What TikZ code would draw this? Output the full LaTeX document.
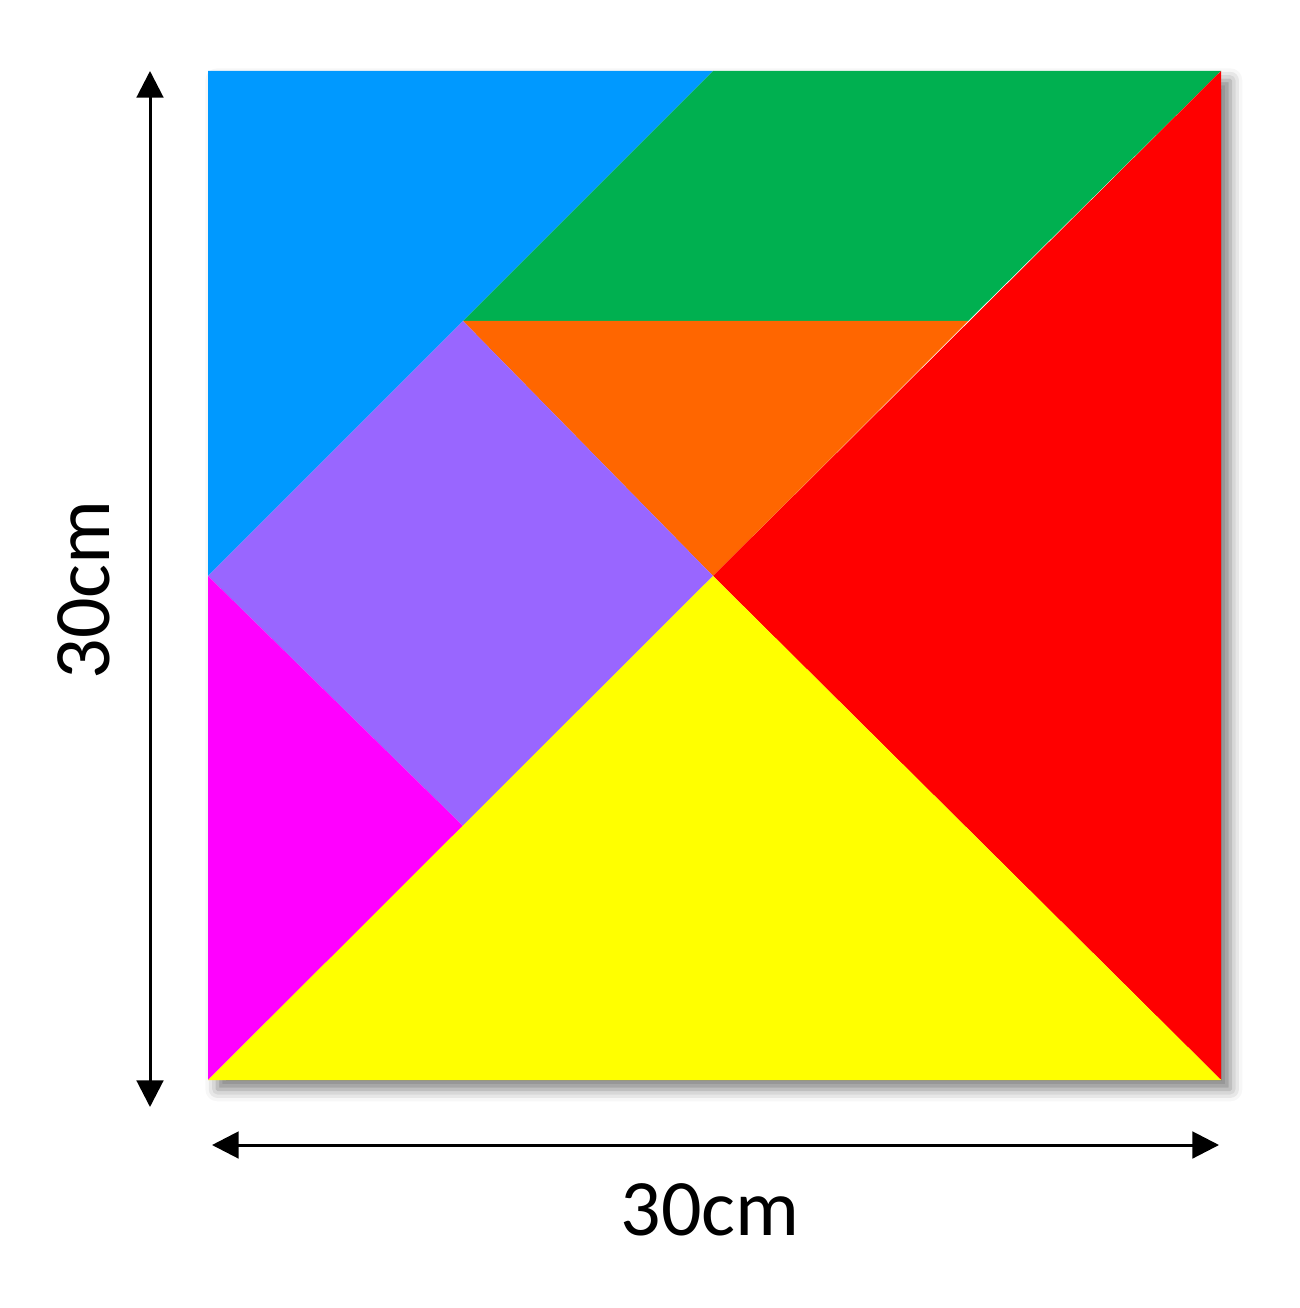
\documentclass[tikz,border=0pt]{standalone}
\usepackage{fontspec}
\setmainfont{Carlito}
\usetikzlibrary{arrows.meta,shadows.blur}
\definecolor{tgblue}{HTML}{0099FF}
\definecolor{tggreen}{HTML}{00B050}
\definecolor{tgorange}{HTML}{FF6600}
\definecolor{tgred}{HTML}{FF0000}
\definecolor{tgpurple}{HTML}{9966FF}
\definecolor{tgpink}{HTML}{FF00FF}
\definecolor{tgyellow}{HTML}{FFFF00}
\tikzset{
  dim/.style={line width=2.25pt, {Triangle[length=20pt,width=20pt,fill=black]}-{Triangle[length=20pt,width=20pt,fill=black]}},
  dimlabel/.style={font=\fontsize{60}{72}\selectfont, inner sep=0pt}
}
\begin{document}
\begin{tikzpicture}[x=0.75pt,y=-0.75pt]
    \useasboundingbox (0,0) rectangle (1299,1308);

    \coordinate (tl) at (208,71);
    \coordinate (tm) at (713,71);
    \coordinate (tr) at (1221,71);
    \coordinate (d) at (463,321);
    \coordinate (e) at (968,321);
    \coordinate (o) at (713,576);
    \coordinate (f) at (208,576);
    \coordinate (g) at (463,826);
    \coordinate (bl) at (208,1080);
    \coordinate (br) at (1221,1080);

    % board with shadow
    \fill[white, blur shadow={shadow xshift=7pt, shadow yshift=-7pt, shadow blur radius=9pt, shadow opacity=50}] (tl) rectangle (br);

    % pieces
    \fill[tgblue] (tl) -- (tm) -- (f) -- cycle;
    \fill[tggreen] (tm) -- (tr) -- (e) -- (d) -- cycle;
    \fill[tgorange] (d) -- (e) -- (o) -- cycle;
    \fill[tgred] (tr) -- (br) -- (o) -- cycle;
    \fill[tgpurple] (d) -- (o) -- (g) -- (f) -- cycle;
    \fill[tgpink] (f) -- (g) -- (bl) -- cycle;
    \fill[tgyellow] (bl) -- (o) -- (br) -- cycle;

    % dimensions
    \coordinate (vtop) at (150,71);
    \coordinate (vbot) at (150,1107);
    \coordinate (hleft) at (212,1145);
    \coordinate (hright) at (1219,1145);
    \draw[dim] (vtop) -- (vbot);
    \draw[dim] (hleft) -- (hright);
    \node[dimlabel, rotate=90] (vlabel) at (84,590) {30cm};
    \node[dimlabel] (hlabel) at (710,1210) {30cm};
\end{tikzpicture}
\end{document}
